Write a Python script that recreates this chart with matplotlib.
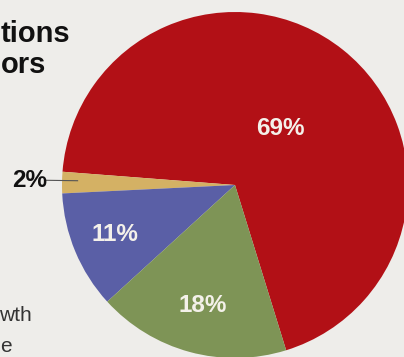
import numpy as np
import matplotlib
matplotlib.use("Agg")
import matplotlib.pyplot as plt

# Data
shares = [69, 2, 11, 18]
labels = ["69%", "2%", "11%", "18%"]
colors = ["#b21016", "#d4b164", "#5a5fa6", "#7e9456"]
start_angle = -72.8

BG = "#eeedea"
W, H = 404, 357
fig = plt.figure(figsize=(W / 100, H / 100), dpi=100, facecolor=BG)

cx, cy, r = 235, 185, 173
ax = fig.add_axes([(cx - r) / W, (H - cy - r) / H, 2 * r / W, 2 * r / H])
ax.set_facecolor("none")
wedges, _ = ax.pie(shares, colors=colors, startangle=start_angle,
                   counterclock=True, radius=1.0,
                   wedgeprops=dict(linewidth=0, antialiased=True))
for w in wedges:
    w.set_clip_on(False)
ax.set_xlim(-1, 1)
ax.set_ylim(-1, 1)
ax.axis("off")

# Label placement derived from wedge mid-angles
dists = [0.42, None, 0.75, 0.72]
for w, lab, d in zip(wedges, labels, dists):
    mid = np.deg2rad((w.theta1 + w.theta2) / 2)
    if d is not None:
        ax.text(d * np.cos(mid), d * np.sin(mid), lab, ha="center", va="center",
                color="#f4f1ea", fontsize=17.5, fontweight="bold",
                family="Liberation Sans")
    else:
        ax.plot([1.10 * np.cos(mid), 0.91 * np.cos(mid)],
                [1.10 * np.sin(mid) + 0.012, 0.91 * np.sin(mid) + 0.012],
                color="#555555", lw=0.8, clip_on=False)
        ax.text(1.19 * np.cos(mid), 1.19 * np.sin(mid) + 0.012, lab,
                ha="center", va="center", color="#111111", fontsize=17.5,
                fontweight="bold", family="Liberation Sans", clip_on=False)

# Surrounding text (partially visible in the reference crop)
fig.text(0.5 / W, 1 - 42 / H, "tions", ha="left", va="baseline", fontsize=21,
         fontweight="bold", family="Liberation Sans", color="#111111")
fig.text(0.5 / W, 1 - 73 / H, "ors", ha="left", va="baseline", fontsize=21,
         fontweight="bold", family="Liberation Sans", color="#111111")
fig.text(32 / W, 1 - 321 / H, "wth", ha="right", va="baseline", fontsize=15,
         family="Liberation Sans", color="#333333")
fig.text(0.5 / W, 1 - 352 / H, "e", ha="left", va="baseline", fontsize=15,
         family="Liberation Sans", color="#333333")

fig.savefig("out.png", dpi=100, facecolor=BG)
